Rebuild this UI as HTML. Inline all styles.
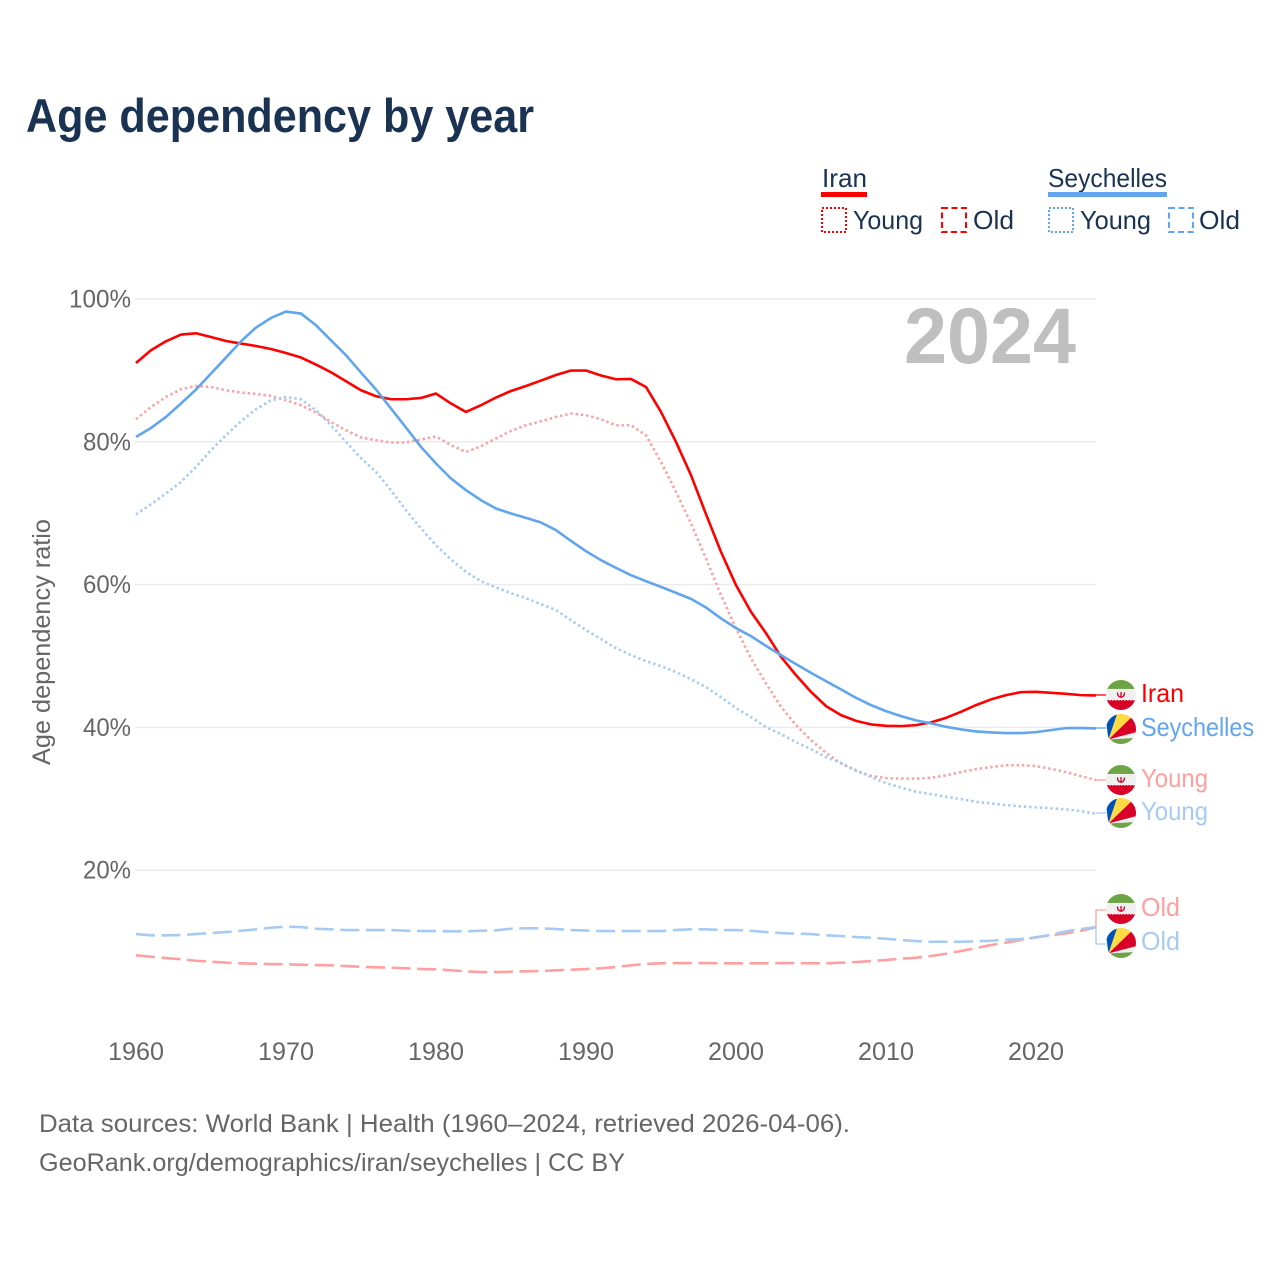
<!DOCTYPE html>
<html lang="en">
<head>
<meta charset="utf-8">
<title>Age dependency by year</title>
<style>
html,body{margin:0;padding:0;background:#fff;width:1280px;height:1280px;overflow:hidden}
svg{display:block}
text{font-family:"Liberation Sans",sans-serif}
.navy{fill:#1a3352}
.grey{fill:#666}
</style>
</head>
<body>
<svg id="chart" xmlns="http://www.w3.org/2000/svg" width="1280" height="1280" viewBox="0 0 1280 1280">
  <defs>
    <clipPath id="flag-clip"><circle cx="0" cy="0" r="15"/></clipPath>
    <g id="flag-iran" clip-path="url(#flag-clip)">
      <rect x="-15" y="-15" width="30" height="30" fill="#f0f0f0"/>
      <rect x="-15" y="-15" width="30" height="9" fill="#6da544"/>
      <rect x="-15" y="5" width="30" height="11" fill="#d80027"/>
      <path d="M-15 -5.5H15" fill="none" stroke="#f0f0f0" stroke-width="1.2" stroke-dasharray="1.5 1.5"/>
      <path d="M-15 5H15" fill="none" stroke="#f0f0f0" stroke-width="1.2" stroke-dasharray="1.5 1.5"/>
      <path d="M-3.5 -2.5 C-3.5 1.5 -1.5 2 0 2 C1.5 2 3.5 1.5 3.5 -2.5 M0 -3 V3" fill="none" stroke="#d80027" stroke-width="1.3"/>
    </g>
    <g id="flag-seychelles" clip-path="url(#flag-clip)">
      <rect x="-15" y="-15" width="30" height="30" fill="#f0f0f0"/>
      <path d="M-12.5 10.5 L-16 -16 L-3.5 -16 Z" fill="#0052b4"/>
      <path d="M-12.5 10.5 L-3.5 -16 L16 -17 Z" fill="#ffda44"/>
      <path d="M-12.5 10.5 L16 -17 L16 3 Z" fill="#d80027"/>
      <path d="M-12.5 10.5 L16 3 L16 9 Z" fill="#f0f0f0"/>
      <path d="M-12.5 10.5 L16 9 L16 16 L-12.5 16 Z" fill="#6da544"/>
    </g>
  </defs>

  <text x="26" y="132" font-size="47" font-weight="700" class="navy" textLength="508" lengthAdjust="spacingAndGlyphs">Age dependency by year</text>

  <g>
    <text x="822" y="187" font-size="26" class="navy" textLength="45" lengthAdjust="spacingAndGlyphs">Iran</text>
    <rect x="821" y="192" width="46" height="5" fill="#ff0000"/>
    <rect x="822" y="208" width="24" height="24" fill="none" stroke="#ff0000" stroke-width="2" stroke-dasharray="2 2"/>
    <text x="853" y="229" font-size="26" class="navy" textLength="70" lengthAdjust="spacingAndGlyphs">Young</text>
    <rect x="942" y="208" width="24" height="24" fill="none" stroke="#ff0000" stroke-width="2" stroke-dasharray="6 3.5"/>
    <text x="973" y="229" font-size="26" class="navy" textLength="41" lengthAdjust="spacingAndGlyphs">Old</text>

    <text x="1048" y="187" font-size="26" class="navy" textLength="119" lengthAdjust="spacingAndGlyphs">Seychelles</text>
    <rect x="1048" y="192" width="119" height="5" fill="#60a5ee"/>
    <rect x="1049" y="208" width="24" height="24" fill="none" stroke="#60a5ee" stroke-width="2" stroke-dasharray="2 2"/>
    <text x="1080" y="229" font-size="26" class="navy" textLength="71" lengthAdjust="spacingAndGlyphs">Young</text>
    <rect x="1169" y="208" width="24" height="24" fill="none" stroke="#60a5ee" stroke-width="2" stroke-dasharray="6 3.5"/>
    <text x="1199" y="229" font-size="26" class="navy" textLength="41" lengthAdjust="spacingAndGlyphs">Old</text>
  </g>

  <g id="grid"></g>
  <g id="yticks"></g>
  <g id="xticks"></g>

  <text transform="translate(50,642) rotate(-90)" text-anchor="middle" font-size="25" class="grey" textLength="246" lengthAdjust="spacingAndGlyphs">Age dependency ratio</text>

  <text x="904" y="363" font-size="79" font-weight="700" fill="#bfbfbf" textLength="172" lengthAdjust="spacingAndGlyphs">2024</text>

  <g id="series"></g>

  <g fill="none" stroke-width="1.3">
    <path d="M1096 695H1106" stroke="#ff0000"/>
    <path d="M1096 728H1106" stroke="#60a5ee"/>
    <path d="M1096 780H1106" stroke="#ff9f9f"/>
    <path d="M1096 813H1106" stroke="#a5cbf3"/>
    <path d="M1096 927V910H1106" stroke="#ff9f9f"/>
    <path d="M1096 927V944H1106" stroke="#a5cbf3"/>
  </g>

  <g>
    <use href="#flag-iran" x="1121" y="695"/>
    <text x="1141" y="702" font-size="26" fill="#ff0000" textLength="43" lengthAdjust="spacingAndGlyphs">Iran</text>
    <use href="#flag-seychelles" x="1121" y="729"/>
    <text x="1141" y="736" font-size="26" fill="#60a5ee" textLength="113" lengthAdjust="spacingAndGlyphs">Seychelles</text>
    <use href="#flag-iran" x="1121" y="780"/>
    <text x="1141" y="787" font-size="26" fill="#ff9f9f" textLength="67" lengthAdjust="spacingAndGlyphs">Young</text>
    <use href="#flag-seychelles" x="1121" y="813"/>
    <text x="1141" y="820" font-size="26" fill="#a5cbf3" textLength="67" lengthAdjust="spacingAndGlyphs">Young</text>
    <use href="#flag-iran" x="1121" y="909"/>
    <text x="1141" y="916" font-size="26" fill="#ff9f9f" textLength="39" lengthAdjust="spacingAndGlyphs">Old</text>
    <use href="#flag-seychelles" x="1121" y="943"/>
    <text x="1141" y="950" font-size="26" fill="#a5cbf3" textLength="39" lengthAdjust="spacingAndGlyphs">Old</text>
  </g>

  <text x="39" y="1132" font-size="25" class="grey" textLength="811" lengthAdjust="spacingAndGlyphs">Data sources: World Bank | Health (1960–2024, retrieved 2026-04-06).</text>
  <text x="39" y="1171" font-size="25" class="grey" textLength="586" lengthAdjust="spacingAndGlyphs">GeoRank.org/demographics/iran/seychelles | CC BY</text>
</svg>

<script>
const years = [1960,1961,1962,1963,1964,1965,1966,1967,1968,1969,
  1970,1971,1972,1973,1974,1975,1976,1977,1978,1979,
  1980,1981,1982,1983,1984,1985,1986,1987,1988,1989,
  1990,1991,1992,1993,1994,1995,1996,1997,1998,1999,
  2000,2001,2002,2003,2004,2005,2006,2007,2008,2009,
  2010,2011,2012,2013,2014,2015,2016,2017,2018,2019,
  2020,2021,2022,2023,2024];
const xTickYears = [1960,1970,1980,1990,2000,2010,2020];
const yTickValues = [20,40,60,80,100];

const iranTotal = [91.04,92.82,94.08,95.02,95.2,94.68,94.12,93.76,93.42,93.0,
  92.44,91.8,90.82,89.74,88.48,87.22,86.38,85.96,85.96,86.14,
  86.76,85.36,84.18,85.12,86.2,87.12,87.82,88.58,89.36,89.98,
  89.98,89.28,88.76,88.8,87.68,84.18,79.98,75.32,69.86,64.58,
  59.92,56.18,53.2,49.88,47.32,44.98,42.98,41.72,40.92,40.42,
  40.22,40.18,40.32,40.7,41.34,42.18,43.12,43.92,44.52,44.94,
  44.98,44.84,44.7,44.52,44.48];
const iranYoung = [83.16,84.88,86.28,87.36,87.82,87.68,87.22,86.9,86.7,86.42,
  85.82,85.12,84.1,82.78,81.62,80.6,80.22,79.9,79.9,80.32,
  80.74,79.52,78.58,79.38,80.46,81.52,82.32,82.88,83.48,83.96,
  83.72,83.16,82.32,82.32,80.92,77.18,72.98,68.56,63.66,58.52,
  53.86,49.66,46.16,42.88,40.32,38.22,36.44,34.96,33.92,33.22,
  32.9,32.83,32.83,32.94,33.28,33.74,34.16,34.44,34.68,34.72,
  34.58,34.2,33.74,33.18,32.62];
const iranOld = [8.08,7.88,7.7,7.52,7.32,7.18,7.04,6.96,6.9,6.86,
  6.82,6.76,6.72,6.68,6.58,6.48,6.4,6.34,6.26,6.16,
  6.12,5.98,5.84,5.74,5.74,5.78,5.84,5.88,5.98,6.06,
  6.16,6.26,6.44,6.68,6.86,6.96,7,7,7,6.96,
  6.96,6.96,6.96,7,7,6.96,6.96,7.04,7.14,7.28,
  7.42,7.6,7.74,7.98,8.3,8.68,9.1,9.52,9.84,10.22,
  10.6,10.88,11.16,11.52,12.0];
const seychellesTotal = [80.68,81.94,83.48,85.36,87.32,89.56,91.8,94.08,96.0,97.34,
  98.24,97.96,96.32,94.22,92.12,89.7,87.32,84.66,82.0,79.28,
  76.96,74.86,73.22,71.82,70.66,69.96,69.34,68.7,67.62,66.12,
  64.68,63.42,62.34,61.32,60.48,59.68,58.84,58.0,56.8,55.26,
  53.9,52.78,51.42,50.12,48.86,47.64,46.48,45.32,44.14,43.12,
  42.28,41.58,40.98,40.56,40.08,39.72,39.44,39.3,39.2,39.2,
  39.34,39.62,39.9,39.9,39.86];
const seychellesYoung = [69.82,71.26,72.76,74.38,76.48,78.82,80.92,82.88,84.56,85.82,
  86.28,85.96,84.42,82.32,79.98,77.7,75.78,73.22,70.42,67.86,
  65.52,63.52,61.78,60.48,59.6,58.8,58.1,57.26,56.42,55.02,
  53.62,52.36,51.1,50.12,49.28,48.58,47.74,46.76,45.64,44.24,
  42.7,41.44,40.04,39.06,37.94,36.96,35.84,35,34.02,33.04,
  32.2,31.57,30.98,30.66,30.28,29.96,29.58,29.36,29.12,28.94,
  28.8,28.66,28.52,28.28,27.9];
const seychellesOld = [11.06,10.88,10.88,10.92,11.06,11.2,11.34,11.52,11.72,11.94,
  12.08,12.04,11.8,11.72,11.62,11.62,11.62,11.62,11.52,11.48,
  11.48,11.44,11.44,11.52,11.58,11.8,11.86,11.86,11.76,11.62,
  11.55,11.48,11.48,11.48,11.48,11.48,11.62,11.72,11.72,11.62,
  11.62,11.52,11.34,11.2,11.1,11.06,10.88,10.78,10.64,10.54,
  10.4,10.22,10.08,9.98,9.98,9.98,10.04,10.12,10.26,10.36,
  10.6,10.96,11.44,11.76,12.04];

const NS = 'http://www.w3.org/2000/svg';
function xScale(year){ return 136 + (year - 1960) * 15; }
function yScale(value){ return 299 + (100 - value) * 7.14; }

function pointsFor(values){
  return values.map(function(v, i){
    return xScale(years[i]).toFixed(2) + ',' + yScale(v).toFixed(2);
  }).join(' ');
}

function drawLine(values, name, color, width, dash){
  const line = document.createElementNS(NS, 'polyline');
  
  
  line.setAttribute('points', pointsFor(values));
  line.setAttribute('fill', 'none');
  line.setAttribute('stroke', color);
  line.setAttribute('stroke-width', width);
  line.setAttribute('stroke-linejoin', 'round');
  if (dash) line.setAttribute('stroke-dasharray', dash);
  document.getElementById('series').appendChild(line);
}

yTickValues.forEach(function(v){
  const grid = document.createElementNS(NS, 'line');
  
  
  grid.setAttribute('x1', xScale(1960) - 1);
  grid.setAttribute('x2', xScale(2024));
  grid.setAttribute('y1', yScale(v));
  grid.setAttribute('y2', yScale(v));
  grid.setAttribute('stroke', '#ebebeb');
  grid.setAttribute('stroke-width', '1.5');
  document.getElementById('grid').appendChild(grid);

  const label = document.createElementNS(NS, 'text');
  
  
  label.setAttribute('x', 131 - (v === 100 ? 62 : 48));
  label.setAttribute('y', yScale(v) + 8.5);
  label.setAttribute('font-size', '25');
  label.setAttribute('fill', '#666');
  label.setAttribute('textLength', v === 100 ? '62' : '48');
  label.setAttribute('lengthAdjust', 'spacingAndGlyphs');
  label.textContent = v + '%';
  document.getElementById('yticks').appendChild(label);
});

xTickYears.forEach(function(y){
  const label = document.createElementNS(NS, 'text');
  
  
  label.setAttribute('x', xScale(y) - 28);
  label.setAttribute('y', 1060);
  label.setAttribute('font-size', '25');
  label.setAttribute('fill', '#666');
  label.setAttribute('textLength', '56');
  label.setAttribute('lengthAdjust', 'spacingAndGlyphs');
  label.textContent = y;
  document.getElementById('xticks').appendChild(label);
});

drawLine(iranOld, 'line-iran-old', '#ff9f9f', 2.6, '19 6.6');
drawLine(seychellesOld, 'line-seychelles-old', '#a5cbf3', 2.6, '19 6.6');
drawLine(iranYoung, 'line-iran-young', '#ff9f9f', 2.6, '2.4 2.9');
drawLine(seychellesYoung, 'line-seychelles-young', '#a5cbf3', 2.6, '2.4 2.9');
drawLine(iranTotal, 'line-iran-total', '#ff0000', 2.6, '');
drawLine(seychellesTotal, 'line-seychelles-total', '#60a5ee', 2.6, '');
</script>
</body>
</html>
